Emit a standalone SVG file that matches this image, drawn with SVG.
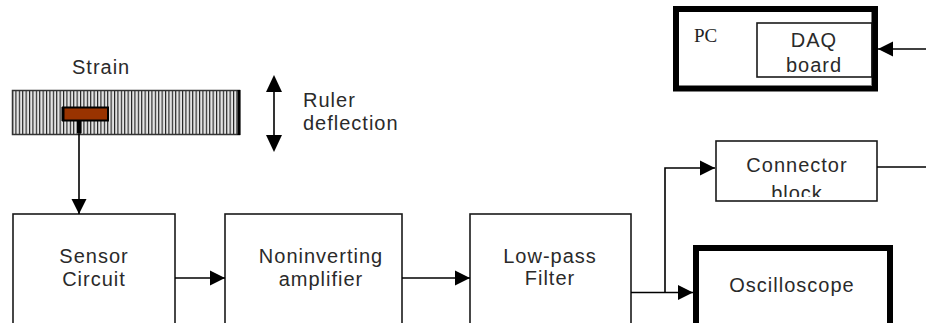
<svg xmlns="http://www.w3.org/2000/svg" width="926" height="323" viewBox="0 0 926 323">
<defs>
<style>
.box{fill:#fff;stroke:#1a1a1a;stroke-width:1.6}
.thick{fill:#fff;stroke:#000;stroke-width:6}
.ln{fill:none;stroke:#000;stroke-width:1.6}
.t{font-family:"Liberation Sans",Arial,sans-serif;font-size:20px;fill:#2a2a2a;letter-spacing:1px}
.tc{text-anchor:middle}
.serif{font-family:"Liberation Serif","Times New Roman",serif;font-size:19px;fill:#222}
</style>
<marker id="ah" markerWidth="16" markerHeight="16" refX="15" refY="8" orient="auto" markerUnits="userSpaceOnUse">
<path d="M0,0.5 L15,8 L0,15.5 Z" fill="#000"/>
</marker>
<pattern id="stripes" x="12" y="0" width="3.4" height="10" patternUnits="userSpaceOnUse">
<rect x="0" y="0" width="3.4" height="10" fill="#e4e4e4"/>
<rect x="0" y="0" width="1.1" height="10" fill="#1a1a1a"/>
</pattern>
<clipPath id="clipConn"><rect x="716" y="141" width="161" height="56"/></clipPath>
</defs>

<g id="strain-label"><text class="t" x="72" y="74">Strain</text></g>

<g id="ruler">
<rect x="12.5" y="90.5" width="227" height="44" fill="url(#stripes)" stroke="#333" stroke-width="1.5"/>
<line x1="239" y1="90" x2="239" y2="135" stroke="#000" stroke-width="3"/>
</g>

<g id="sensor">
<rect x="63" y="107.5" width="45" height="13" fill="#993300" stroke="#000" stroke-width="2"/>
<line x1="63" y1="107" x2="63" y2="121" stroke="#000" stroke-width="3"/>
<rect x="77" y="121" width="4.5" height="12" fill="#000"/>
</g>

<g id="ruler-deflection">
<line x1="274" y1="88" x2="274" y2="140" class="ln"/>
<path d="M274,75 L282,92 L266,92 Z" fill="#000"/>
<path d="M274,152 L282,135 L266,135 Z" fill="#000"/>
<text class="t" x="303" y="107">Ruler</text>
<text class="t" x="303" y="130">deflection</text>
</g>

<g id="sensor-circuit">
<rect class="box" x="13" y="214" width="162" height="120"/>
<text class="t tc" x="94" y="263">Sensor</text>
<text class="t tc" x="94" y="286">Circuit</text>
</g>

<g id="noninverting-amplifier">
<rect class="box" x="225" y="214" width="177" height="120"/>
<text class="t tc" x="321" y="263">Noninverting</text>
<text class="t tc" x="321" y="286">amplifier</text>
</g>

<g id="lowpass-filter">
<rect class="box" x="470" y="214" width="161" height="120"/>
<text class="t tc" x="550" y="263">Low-pass</text>
<text class="t tc" x="550" y="285">Filter</text>
</g>

<g id="connector-block">
<rect class="box" x="716" y="141" width="161" height="60"/>
<text class="t tc" x="797" y="172">Connector</text>
<text class="t tc" x="797" y="200" clip-path="url(#clipConn)">block</text>
</g>

<g id="oscilloscope">
<rect class="thick" x="696" y="248" width="194" height="90"/>
<text class="t tc" x="792" y="292">Oscilloscope</text>
</g>

<g id="pc">
<rect class="thick" x="676" y="9" width="199" height="79.5"/>
<text class="serif" x="694" y="42">PC</text>
</g>

<g id="daq-board">
<rect class="box" x="757" y="23" width="115" height="54" fill="none"/>
<line x1="872" y1="12" x2="872" y2="85" stroke="#000" stroke-width="1"/>
<text class="t tc" x="814" y="47">DAQ</text>
<text class="t tc" x="814" y="72">board</text>
</g>

<g id="connectors">
<line class="ln" x1="79" y1="133" x2="79" y2="214" marker-end="url(#ah)"/>
<line class="ln" x1="175" y1="278" x2="225" y2="278" marker-end="url(#ah)"/>
<line class="ln" x1="402" y1="278" x2="470" y2="278" marker-end="url(#ah)"/>
<line class="ln" x1="631" y1="292.5" x2="693" y2="292.5" marker-end="url(#ah)"/>
<polyline class="ln" points="665,292.5 665,168 715,168" marker-end="url(#ah)"/>
<line class="ln" x1="877" y1="167" x2="926" y2="167"/>
<line class="ln" x1="926" y1="49" x2="878" y2="49" marker-end="url(#ah)"/>
</g>
</svg>
